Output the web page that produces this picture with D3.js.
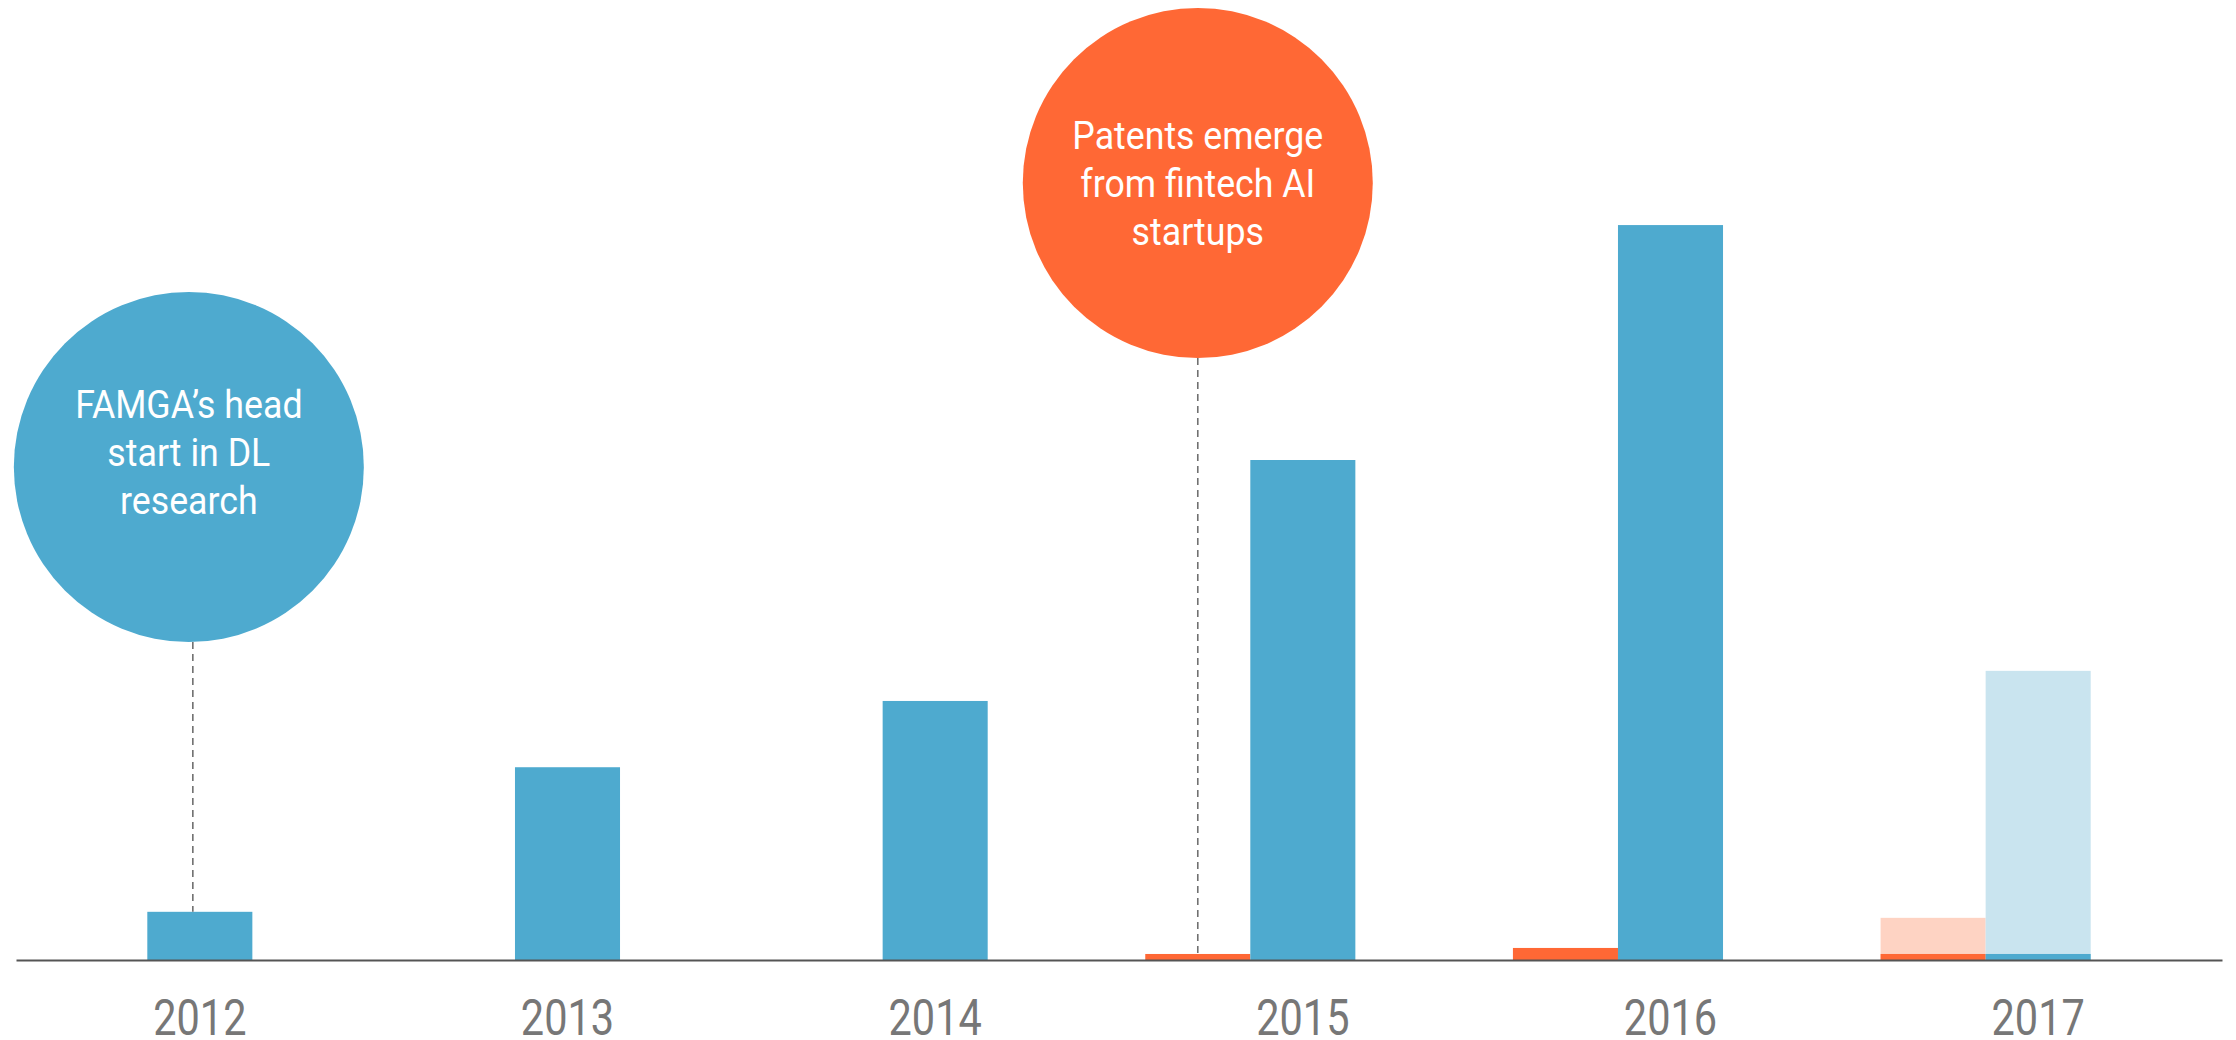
<!DOCTYPE html>
<html><head><meta charset="utf-8">
<script src="https://cdn.jsdelivr.net/npm/d3@7"></script>
<style>html,body{margin:0;padding:0;background:#fff;} svg{display:block;}</style>
</head><body>
<script>
// ---- data ----
const years = ["2012", "2013", "2014", "2015", "2016", "2017"];
const seriesKeys = ["startups", "famga", "gap"];          // third slot is an empty spacer
const startupPatents = [0, 0, 0, 1, 2, 1];
const famgaPatents   = [8, 32, 43, 83, 122, 1];
const startupPending = [0, 0, 0, 0, 0, 7];                 // light (incomplete-year) bars
const famgaPending   = [0, 0, 0, 0, 0, 48];
const annotationYears  = ["2012", "2015"];
const annotationSeries = ["famga", "startups"];
const annotationTexts  = [["FAMGA’s head", "start in DL", "research"],
                          ["Patents emerge", "from fintech AI", "startups"]];

// ---- style / layout ----
const W = 2236, H = 1040;
const BLUE = "#4EAACF", ORANGE = "#FF6835", LBLUE = "#C9E4EF", LORANGE = "#FED3C3";
const baseY = 960;
const annLayout = [{cy: 467, r: 175, dx: -11, lineDx: -7, textDy: -1},
                   {cy: 183, r: 175, dx: 0, lineDx: 0, textDy: 14}];

const svg = d3.select("body").append("svg").attr("width", W).attr("height", H);

const x = d3.scaleBand().domain(years).range([16, 2222]).paddingInner(0).paddingOuter(0);
const x1 = d3.scaleBand().domain(seriesKeys).range([0, x.bandwidth()]).paddingInner(0).paddingOuter(0.25);
const y = d3.scaleLinear().domain([0, 125]).range([baseY, 207]);

const rows = years.map((yr, i) => ({
  year: yr,
  startups: startupPatents[i], famga: famgaPatents[i],
  startupsPending: startupPending[i], famgaPending: famgaPending[i]
}));
const colors = {startups: ORANGE, famga: BLUE};
const lightColors = {startups: LORANGE, famga: LBLUE};

const groups = svg.append("g").selectAll("g").data(rows).join("g")
  .attr("transform", d => `translate(${x(d.year)},0)`);

// pending (light) bars behind
groups.selectAll("rect.pending")
  .data(d => ["startups", "famga"].map(k => ({k, v: d[k + "Pending"]})).filter(e => e.v > 0))
  .join("rect").attr("class", "pending")
  .attr("x", e => x1(e.k)).attr("width", x1.bandwidth())
  .attr("y", e => y(e.v)).attr("height", e => y(0) - y(e.v))
  .attr("fill", e => lightColors[e.k]);

// actual bars
groups.selectAll("rect.actual")
  .data(d => ["startups", "famga"].map(k => ({k, v: d[k]})).filter(e => e.v > 0))
  .join("rect").attr("class", "actual")
  .attr("x", e => x1(e.k)).attr("width", x1.bandwidth())
  .attr("y", e => y(e.v)).attr("height", e => y(0) - y(e.v))
  .attr("fill", e => colors[e.k]);

// axis
const axis = svg.append("g").attr("transform", `translate(0,${baseY})`)
  .call(d3.axisBottom(x).tickSize(0).tickSizeOuter(0).tickPadding(40));
axis.select(".domain").attr("stroke", "#555").attr("stroke-width", 2.2);
axis.selectAll(".tick text")
  .attr("font-family", "Roboto, 'Noto Sans', sans-serif")
  .attr("font-size", 50).attr("fill", "#777")
  .attr("transform", "scale(0.83,1)");

// annotations
annotationYears.forEach((yr, i) => {
  const L = annLayout[i];
  const s = annotationSeries[i];
  const idx = years.indexOf(yr);
  const val = s === "famga" ? famgaPatents[idx] : startupPatents[idx];
  const barCx = x(yr) + x1(s) + x1.bandwidth() / 2;
  const cx = barCx + L.dx;
  svg.append("line")
    .attr("x1", barCx + L.lineDx).attr("x2", barCx + L.lineDx)
    .attr("y1", L.cy + L.r).attr("y2", y(val))
    .attr("stroke", "#707070").attr("stroke-width", 1.6).attr("stroke-dasharray", "7,5");
  const g = svg.append("g").attr("transform", `translate(${cx},${L.cy})`);
  g.append("circle").attr("r", L.r).attr("fill", s === "famga" ? BLUE : ORANGE);
  const t = g.append("text")
    .attr("font-family", "Roboto, 'Noto Sans', sans-serif")
    .attr("font-size", 38).attr("fill", "#fff").attr("text-anchor", "middle")
    .attr("transform", "scale(0.94,1)");
  annotationTexts[i].forEach((line, j) => {
    t.append("tspan").attr("x", 0).attr("y", L.textDy + (j - 1) * 48).text(line);
  });
});
</script>
</body></html>
